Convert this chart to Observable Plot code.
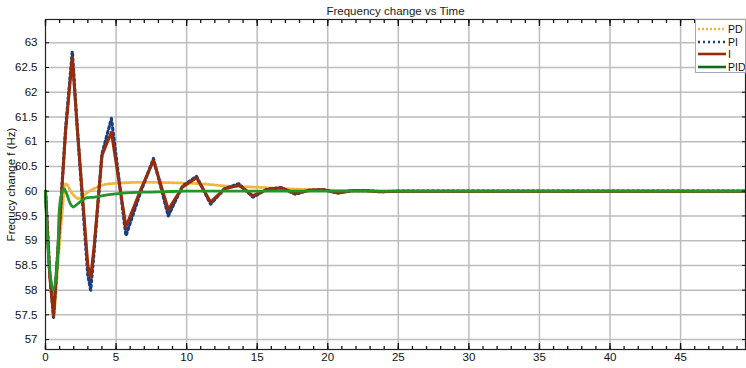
<!DOCTYPE html>
<html>
<head>
<meta charset="utf-8">
<script src="https://cdn.jsdelivr.net/npm/d3@7"></script>
<script src="https://cdn.jsdelivr.net/npm/@observablehq/plot@0.6"></script>
<style>
  html, body { margin: 0; padding: 0; background: #fff; }
  #wrap { position: relative; width: 746px; height: 368px; font-family: "Liberation Sans", Arial, sans-serif; }
  #legend { position: absolute; left: 695px; top: 19px; width: 51px; height: 54px; border: 1px solid #a9a3c4; background: #fff; box-sizing: border-box; overflow: hidden; }
  #legend .row { position: absolute; left: 1px; height: 12px; display: flex; align-items: center; font-size: 10.5px; color: #111; white-space: nowrap; }
  #legend svg { display: block; margin-right: 1px; }
</style>
</head>
<body>
<div id="wrap"></div>
<script>
// ---- data ----
const title = "Frequency change vs Time";
const yLabel = "Frequcy change f (Hz)";
const seriesNames = ["PD", "PI", "I", "PID"];

const tPD = [0, 0.3, 0.6, 0.9, 1.2, 1.45, 1.9, 2.35, 3.0, 4.0, 5.0, 7.0, 9.0, 11.0, 13.0, 15.0, 17.0, 19.0, 21.0, 23.0, 26.0, 49.6];
const fPD = [60, 58.3, 57.6, 58.6, 59.6, 60.15, 59.95, 59.85, 59.98, 60.12, 60.16, 60.18, 60.17, 60.15, 60.1, 60.08, 60.05, 60.03, 60.015, 60.005, 60, 60];

const tPI = [0, 0.3, 0.57, 0.9, 1.42, 1.9, 2.27, 3.0, 3.2, 3.45, 4.0, 4.67, 5.7, 6.7, 7.65, 8.7, 9.7, 10.7, 11.7, 12.7, 13.7, 14.7, 15.7, 16.7, 17.7, 18.7, 19.7, 20.7, 21.7, 22.7, 23.7, 25, 49.6];
const fPI = [60, 58.35, 57.45, 58.9, 61.25, 62.82, 61.2, 58.3, 58.0, 58.8, 60.75, 61.47, 59.1, 59.95, 60.66, 59.5, 60.1, 60.3, 59.74, 60.05, 60.15, 59.88, 60.04, 60.07, 59.94, 60.02, 60.03, 59.97, 60.01, 60.01, 59.99, 60, 60];

const tI = [0, 0.3, 0.57, 0.9, 1.42, 1.9, 2.27, 3.0, 3.2, 3.45, 4.0, 4.67, 5.7, 6.7, 7.65, 8.7, 9.7, 10.7, 11.7, 12.7, 13.7, 14.7, 15.7, 16.7, 17.7, 18.7, 19.7, 20.7, 21.7, 22.7, 23.7, 25, 49.6];
const fI = [60, 58.3, 57.47, 58.9, 61.2, 62.7, 61.2, 58.5, 58.25, 58.9, 60.72, 61.19, 59.28, 60.0, 60.62, 59.63, 60.08, 60.27, 59.78, 60.05, 60.12, 59.91, 60.03, 60.07, 59.95, 60.02, 60.03, 59.96, 60.01, 60.01, 59.99, 60, 60];

const tPID = [0, 0.07, 0.3, 0.55, 0.8, 1.0, 1.15, 1.3, 1.5, 1.75, 1.96, 2.3, 2.83, 3.5, 4.5, 5.5, 7, 8.5, 10, 12, 49.6];
const fPID = [60, 59.5, 58.4, 58.0, 58.4, 59.7, 59.95, 60.05, 59.95, 59.75, 59.68, 59.75, 59.86, 59.88, 59.93, 59.96, 59.98, 59.99, 60.0, 60.0, 60.0];

const xMajorTicks = [0, 5, 10, 15, 20, 25, 30, 35, 40, 45];
const xMinorTicks = d3.range(0, 50, 1);
const yTicks = [57, 57.5, 58, 58.5, 59, 59.5, 60, 60.5, 61, 61.5, 62, 62.5, 63];

// ---- build tables ----
const toRows = (t, f) => t.map((x, i) => ({t: x, f: f[i]}));
const pd = toRows(tPD, fPD), pi = toRows(tPI, fPI), iI = toRows(tI, fI), pid = toRows(tPID, fPID);

const colors = {PD: "#f3b63c", PI: "#1c3f7c", I: "#972c0d", PID: "#22962a"};

const chart = Plot.plot({
  width: 746,
  height: 368,
  marginLeft: 45,
  marginRight: 1,
  marginTop: 19,
  marginBottom: 19,
  style: {fontFamily: "'Liberation Sans', Arial, sans-serif", fontSize: "11px", color: "#111", background: "#fff"},
  x: {domain: [0, 49.6]},
  y: {domain: [56.8, 63.47]},
  marks: [
    Plot.gridX(xMajorTicks.slice(1), {stroke: "#bdbdbd", strokeOpacity: 1, strokeWidth: 1.5}),
    Plot.gridY(yTicks, {stroke: "#bdbdbd", strokeOpacity: 1, strokeWidth: 1.5}),
    Plot.line(pd, {x: "t", y: "f", stroke: colors.PD, strokeWidth: 2.8, strokeDasharray: "2,2", curve: "catmull-rom"}),
    Plot.line(pi, {x: "t", y: "f", stroke: colors.PI, strokeWidth: 3.2, strokeDasharray: "2,3"}),
    Plot.line(iI, {x: "t", y: "f", stroke: colors.I, strokeWidth: 3}),
    Plot.line(pid, {x: "t", y: "f", stroke: colors.PID, strokeWidth: 2.8, curve: "catmull-rom"}),
    Plot.frame({stroke: "#222", strokeWidth: 1.2}),
    // axes
    Plot.axisX({ticks: xMajorTicks, tickSize: 0, tickPadding: 3, label: null, fontSize: 11.5}),
    Plot.axisX({ticks: xMajorTicks, tickSize: -6, text: null, label: null, stroke: "#111", strokeWidth: 1.3}),
    Plot.axisX({ticks: xMinorTicks, tickSize: -3, text: null, label: null, stroke: "#111", strokeWidth: 1.3}),
    Plot.axisX({anchor: "top", ticks: xMajorTicks, tickSize: -6, text: null, label: null, stroke: "#111", strokeWidth: 1.3}),
    Plot.axisX({anchor: "top", ticks: xMinorTicks, tickSize: -3, text: null, label: null, stroke: "#111", strokeWidth: 1.3}),
    Plot.axisY({ticks: yTicks, tickSize: -4, tickPadding: 12, tickFormat: d => String(d), label: yLabel, labelAnchor: "center", labelArrow: "none", labelOffset: 39, fontSize: 11.5, stroke: "#111"}),
    Plot.axisY({anchor: "right", ticks: yTicks, tickSize: -4, text: null, label: null, stroke: "#111"}),
    Plot.text([title], {frameAnchor: "top", lineAnchor: "middle", dy: -8, fontSize: 11.5, fill: "#222"})
  ]
});

const wrap = document.getElementById("wrap");
wrap.appendChild(chart);

// ---- legend ----
const legend = document.createElement("div");
legend.id = "legend";
const dash = {PD: "2,2", PI: "2,3", I: null, PID: null};
const legendColors = {PD: "#f3b63c", PI: "#1c3f7c", I: "#972c0d", PID: "#0e6b16"};
seriesNames.forEach((name, i) => {
  const row = document.createElement("div");
  row.className = "row";
  row.style.top = (3 + i * 12.6) + "px";
  const svg = d3.create("svg").attr("width", 30).attr("height", 8);
  svg.append("line").attr("x1", 1).attr("x2", 29).attr("y1", 4).attr("y2", 4)
    .attr("stroke", legendColors[name]).attr("stroke-width", 2.6)
    .attr("stroke-dasharray", dash[name]);
  row.appendChild(svg.node());
  const span = document.createElement("span");
  span.textContent = name;
  row.appendChild(span);
  legend.appendChild(row);
});
wrap.appendChild(legend);
</script>
</body>
</html>
